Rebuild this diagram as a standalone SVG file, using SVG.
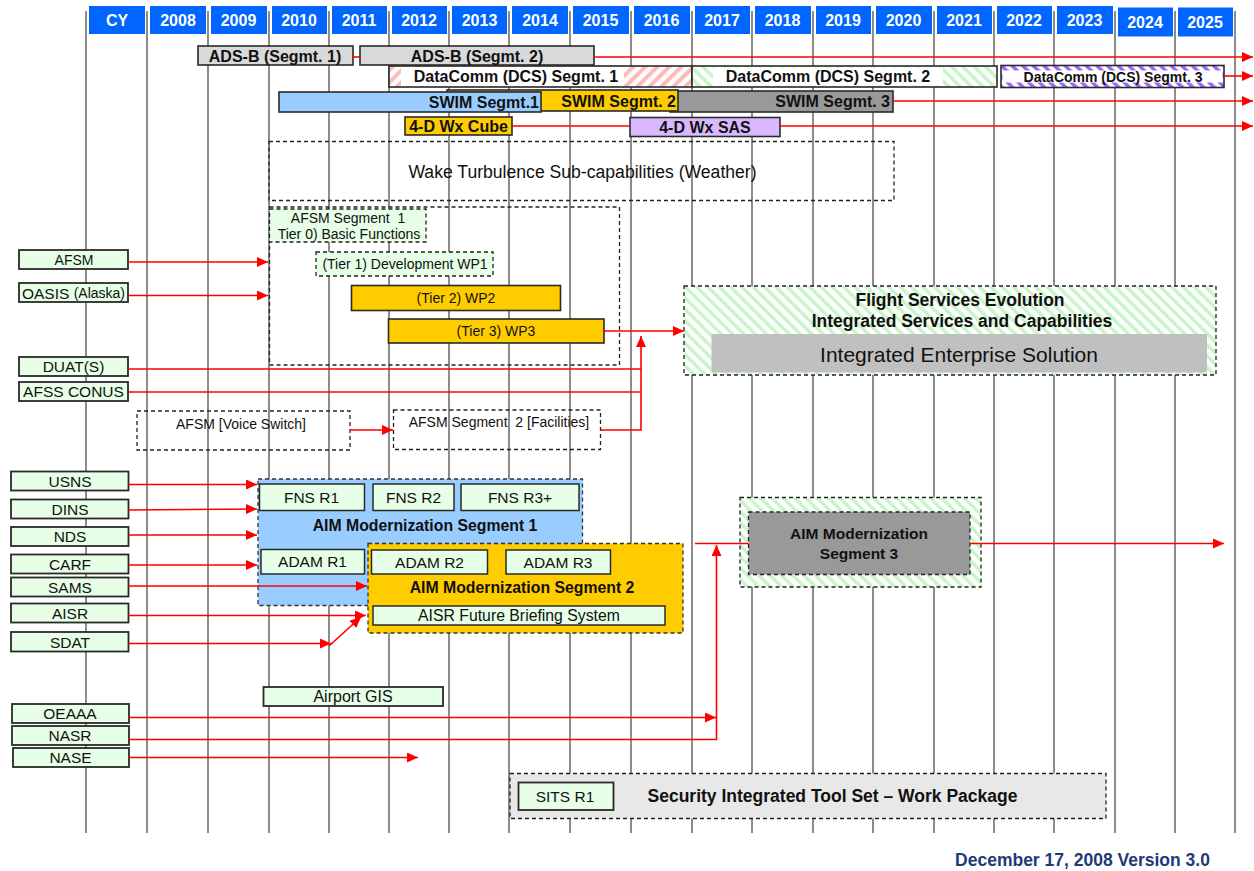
<svg xmlns="http://www.w3.org/2000/svg" width="1254" height="871" viewBox="0 0 1254 871">
<style>
text{font-family:"Liberation Sans",Arial,sans-serif;fill:#111;dominant-baseline:central;text-anchor:middle}
.hd rect{fill:#0066FF}
.hd text{fill:#fff;font-weight:bold;font-size:16px}
.grid line{stroke:#8c8c8c;stroke-width:2}
.bar{stroke:#2a2a2a;stroke-width:1.6}
.b{font-weight:bold}
.src{fill:#E6FFE6;stroke:#2a2a2a;stroke-width:1.8}
.lg{fill:#E6FFE6;stroke:#2a2a2a;stroke-width:1.5}
.dash{fill:none;stroke:#222;stroke-width:1.3;stroke-dasharray:4 3}
.conn line,.conn polyline{stroke:#FF0000;stroke-width:1.6;fill:none}
.arr{marker-end:url(#ah)}
</style>
<defs>
<marker id="ah" markerUnits="userSpaceOnUse" markerWidth="12" markerHeight="10" refX="11" refY="5" orient="auto">
<path d="M0,0 L11,5 L0,10 Z" fill="#FF0000"/>
</marker>
<pattern id="pPink" patternUnits="userSpaceOnUse" width="8.5" height="8.5" patternTransform="rotate(45)">
<rect width="8.5" height="8.5" fill="#fff"/><rect width="4" height="8.5" fill="#FFB9B9"/>
</pattern>
<pattern id="pGreen" patternUnits="userSpaceOnUse" width="8" height="8" patternTransform="rotate(-45)">
<rect width="8" height="8" fill="#fff"/><rect width="3.5" height="8" fill="#C8F5C8"/>
</pattern>
<pattern id="pPurple" patternUnits="userSpaceOnUse" width="7.5" height="7.5" patternTransform="rotate(-45)">
<rect width="7.5" height="7.5" fill="#fff"/><rect width="3.5" height="7.5" fill="#9966FF"/>
</pattern>
</defs>
<rect width="1254" height="871" fill="#fff"/>

<g id="grid" class="grid">
<line x1="86" y1="11" x2="86" y2="833"/><line x1="147" y1="11" x2="147" y2="833"/><line x1="208" y1="11" x2="208" y2="833"/><line x1="269" y1="11" x2="269" y2="833"/><line x1="329" y1="11" x2="329" y2="833"/><line x1="389" y1="11" x2="389" y2="833"/><line x1="449" y1="11" x2="449" y2="833"/><line x1="509" y1="11" x2="509" y2="833"/><line x1="570" y1="11" x2="570" y2="833"/><line x1="631" y1="11" x2="631" y2="833"/><line x1="692" y1="11" x2="692" y2="833"/><line x1="752" y1="11" x2="752" y2="833"/><line x1="813" y1="11" x2="813" y2="833"/><line x1="873" y1="11" x2="873" y2="833"/><line x1="934" y1="11" x2="934" y2="833"/><line x1="994" y1="11" x2="994" y2="833"/><line x1="1054" y1="11" x2="1054" y2="833"/><line x1="1115" y1="11" x2="1115" y2="833"/><line x1="1175" y1="11" x2="1175" y2="833"/><line x1="1235" y1="11" x2="1235" y2="833"/>
</g>

<g id="header" class="hd">
<rect x="89" y="6" width="56" height="28"/><text x="117" y="20">CY</text>
<rect x="150" y="6" width="56" height="28"/><text x="178" y="20">2008</text>
<rect x="211" y="6" width="56" height="28"/><text x="238.5" y="20">2009</text>
<rect x="272" y="6" width="55" height="28"/><text x="299" y="20">2010</text>
<rect x="332" y="6" width="55" height="28"/><text x="359" y="20">2011</text>
<rect x="392" y="6" width="55" height="28"/><text x="419" y="20">2012</text>
<rect x="452" y="6" width="55" height="28"/><text x="479.5" y="20">2013</text>
<rect x="512" y="6" width="56" height="28"/><text x="540" y="20">2014</text>
<rect x="573" y="6" width="56" height="28"/><text x="600.5" y="20">2015</text>
<rect x="634" y="6" width="56" height="28"/><text x="661.5" y="20">2016</text>
<rect x="695" y="6" width="55" height="28"/><text x="722" y="20">2017</text>
<rect x="755" y="6" width="56" height="28"/><text x="782.5" y="20">2018</text>
<rect x="816" y="6" width="55" height="28"/><text x="843" y="20">2019</text>
<rect x="876" y="6" width="56" height="28"/><text x="903.5" y="20">2020</text>
<rect x="937" y="6" width="55" height="28"/><text x="964" y="20">2021</text>
<rect x="997" y="6" width="55" height="28"/><text x="1024" y="20">2022</text>
<rect x="1057" y="6" width="56" height="28"/><text x="1084.5" y="20">2023</text>
<rect x="1118" y="7.5" width="55" height="29"/><text x="1145" y="22">2024</text>
<rect x="1178" y="7.5" width="55" height="29"/><text x="1205" y="22">2025</text>
</g>

<g id="adsb1"><rect class="bar" x="198" y="46" width="155" height="19" fill="#D9D9D9"/><text class="b" x="275" y="56" font-size="16">ADS-B (Segmt. 1)</text></g>
<g id="adsb2"><rect class="bar" x="360" y="46" width="234" height="19" fill="#D9D9D9"/><text class="b" x="477" y="56" font-size="16">ADS-B (Segmt. 2)</text></g>

<g id="dcs1"><rect class="bar" x="389" y="66" width="303" height="21" fill="url(#pPink)"/><rect x="401" y="67" width="223" height="19" fill="#fff"/><text class="b" x="516" y="76.5" font-size="16">DataComm (DCS) Segmt. 1</text></g>
<g id="dcs2"><rect class="bar" x="692" y="66" width="305" height="21" fill="url(#pGreen)"/><rect x="713" y="67.5" width="230" height="18" fill="#fff"/><text class="b" x="828" y="76.5" font-size="16">DataComm (DCS) Segmt. 2</text></g>
<g id="dcs3"><rect class="bar" x="1001" y="65.5" width="223" height="22" fill="url(#pPurple)"/><rect x="1002.5" y="70.5" width="220" height="12" fill="#fff"/><text class="b" x="1113" y="76.5" font-size="14">DataComm (DCS) Segmt. 3</text></g>

<g id="swim3"><rect class="bar" x="670" y="91" width="223" height="21" fill="#999999"/><text class="b" x="890" y="101.5" font-size="16" style="text-anchor:end">SWIM Segmt. 3</text></g>
<g id="swim2"><rect class="bar" x="447" y="90" width="231" height="21" fill="#FFCC00"/><text class="b" x="676" y="101" font-size="16" style="text-anchor:end">SWIM Segmt. 2</text></g>
<g id="swim1"><rect class="bar" x="279" y="92" width="262" height="20" fill="#99CCFF"/><text class="b" x="539" y="102" font-size="16" style="text-anchor:end">SWIM Segmt.1</text></g>

<g id="wxcube"><rect class="bar" x="405" y="117" width="107" height="18" fill="#FFCC00"/><text class="b" x="458.5" y="126" font-size="16">4-D Wx Cube</text></g>
<g id="wxsas"><rect class="bar" x="630" y="117.5" width="150" height="19" fill="#D9B8FF"/><text class="b" x="705" y="127" font-size="16">4-D Wx SAS</text></g>

<g id="wake"><rect class="dash" x="269" y="141.5" width="625" height="59"/><text x="582.5" y="172" font-size="17.6">Wake Turbulence Sub-capabilities (Weather)</text></g>

<g id="afsm-frame"><rect class="dash" x="269.5" y="207" width="350" height="158"/></g>
<g id="afsm-seg1"><rect x="269.5" y="209" width="156.5" height="33" fill="#E6FFE6" stroke="#222" stroke-width="1.3" stroke-dasharray="4 3"/><text x="348" y="217.5" font-size="14">AFSM Segment&#160; 1</text><text x="349" y="234" font-size="14">Tier 0) Basic Functions</text></g>
<g id="tier1"><rect x="316" y="252" width="177" height="24" fill="#E6FFE6" stroke="#222" stroke-width="1.3" stroke-dasharray="4 3"/><text x="405" y="264" font-size="14">(Tier 1) Development WP1</text></g>
<g id="tier2"><rect class="bar" x="351.5" y="285.5" width="209" height="25" fill="#FFCC00"/><text x="456" y="298" font-size="14">(Tier 2) WP2</text></g>
<g id="tier3"><rect class="bar" x="388.5" y="319" width="215.5" height="24" fill="#FFCC00"/><text x="496" y="331" font-size="14">(Tier 3) WP3</text></g>

<g id="fse"><rect x="684" y="286" width="532" height="89" fill="url(#pGreen)" stroke="#222" stroke-width="1.3" stroke-dasharray="4 3"/><text class="b" x="960" y="300" font-size="17.5">Flight Services Evolution</text><text class="b" x="962" y="321" font-size="17.5">Integrated Services and Capabilities</text><rect x="711.5" y="334" width="495.5" height="38.5" fill="#C0C0C0"/><text x="959" y="354" font-size="21">Integrated Enterprise Solution</text></g>

<g id="src-afsm"><rect class="src" x="19" y="250" width="109" height="19"/><text x="74" y="259.5" font-size="14">AFSM</text></g>
<g id="src-oasis"><rect class="src" x="19" y="283" width="109" height="19"/><text x="73.5" y="292.5"><tspan font-size="15.5">OASIS </tspan><tspan font-size="14">(Alaska)</tspan></text></g>
<g id="src-duat"><rect class="src" x="19" y="357" width="109" height="19"/><text x="73.5" y="366.5" font-size="15.5">DUAT(S)</text></g>
<g id="src-afss"><rect class="src" x="19" y="382" width="109" height="19"/><text x="73.5" y="391.5" font-size="15.5">AFSS CONUS</text></g>

<g id="voice"><rect class="dash" x="137" y="411" width="213" height="39"/><text x="241" y="424" font-size="14">AFSM [Voice Switch]</text></g>
<g id="afsm-seg2"><rect class="dash" x="393.5" y="410" width="207" height="39.5"/><text x="499" y="422" font-size="14">AFSM Segment&#160; 2 [Facilities]</text></g>

<g id="src-usns"><rect class="src" x="11" y="471.5" width="117.5" height="19"/><text x="70" y="481" font-size="15.5">USNS</text></g>
<g id="src-dins"><rect class="src" x="11" y="499.5" width="117.5" height="19"/><text x="70" y="509" font-size="15.5">DINS</text></g>
<g id="src-nds"><rect class="src" x="11" y="527" width="117.5" height="19"/><text x="70" y="536.5" font-size="15.5">NDS</text></g>
<g id="src-carf"><rect class="src" x="11" y="554.5" width="117.5" height="19"/><text x="70" y="564" font-size="15.5">CARF</text></g>
<g id="src-sams"><rect class="src" x="11" y="577.5" width="117.5" height="19"/><text x="70" y="587" font-size="15.5">SAMS</text></g>
<g id="src-aisr"><rect class="src" x="11" y="603.5" width="117.5" height="19"/><text x="70" y="613" font-size="15.5">AISR</text></g>
<g id="src-sdat"><rect class="src" x="11" y="632" width="117.5" height="19.5"/><text x="70" y="642" font-size="15.5">SDAT</text></g>

<g id="aim1"><rect x="258" y="479" width="324.5" height="126.5" fill="#99CCFF" stroke="#333" stroke-width="1.3" stroke-dasharray="4 3"/><text class="b" x="425" y="525.5" font-size="15.8">AIM Modernization Segment 1</text>
<rect class="lg" x="259.5" y="484" width="105" height="26.5"/><text x="311.5" y="497.5" font-size="15.5">FNS R1</text>
<rect class="lg" x="373" y="484" width="81" height="26.5"/><text x="413.5" y="497.5" font-size="15.5">FNS R2</text>
<rect class="lg" x="461" y="484" width="118" height="26.5"/><text x="520" y="497.5" font-size="15.5">FNS R3+</text>
<rect class="lg" x="261" y="549.5" width="103.5" height="24.5"/><text x="312.5" y="561.5" font-size="15.5">ADAM R1</text></g>

<g id="aim2"><rect x="368" y="543.5" width="315" height="89.5" fill="#FFCC00" stroke="#333" stroke-width="1.3" stroke-dasharray="4 3"/>
<rect class="lg" x="371.5" y="550" width="116" height="24"/><text x="429.5" y="562" font-size="15.5">ADAM R2</text>
<rect class="lg" x="506" y="550" width="104.5" height="24"/><text x="558" y="562" font-size="15.5">ADAM R3</text>
<text class="b" x="522" y="587.5" font-size="15.8">AIM Modernization Segment 2</text>
<rect class="lg" x="373" y="606" width="292" height="19"/><text x="519" y="615.5" font-size="15.8">AISR Future Briefing System</text></g>

<g id="aim3"><rect x="740" y="497.5" width="241" height="89.5" fill="url(#pGreen)" stroke="#222" stroke-width="1.3" stroke-dasharray="4 3"/><rect x="748.5" y="512" width="221.5" height="62.5" fill="#999999" stroke="#222" stroke-width="1.3" stroke-dasharray="4 3"/><text class="b" x="859" y="533.5" font-size="15.5">AIM Modernization</text><text class="b" x="859" y="553" font-size="15.5">Segment 3</text></g>

<g id="airport-gis"><rect class="src" x="263.5" y="687" width="179.5" height="19"/><text x="353" y="696.5" font-size="16">Airport GIS</text></g>
<g id="src-oeaaa"><rect class="src" x="12" y="704" width="117" height="19"/><text x="70" y="713.5" font-size="15.5">OEAAA</text></g>
<g id="src-nasr"><rect class="src" x="12" y="726" width="117" height="19"/><text x="70" y="735.5" font-size="15.5">NASR</text></g>
<g id="src-nase"><rect class="src" x="13" y="748" width="116" height="19"/><text x="70.5" y="757.5" font-size="15.5">NASE</text></g>

<g id="sits"><rect x="510" y="773.5" width="596" height="45" fill="#E8E8E8" stroke="#222" stroke-width="1.3" stroke-dasharray="4 3"/><rect class="src" x="518.5" y="782.5" width="95" height="27.5"/><text x="565" y="796.5" font-size="15.5">SITS R1</text><text class="b" x="832.5" y="795.5" font-size="17.5">Security Integrated Tool Set – Work Package</text></g>

<g id="footer"><text class="b" x="1082.5" y="860" font-size="17.5" style="fill:#1F3A75">December 17, 2008 Version 3.0</text></g>

<g id="connectors" class="conn">
<line x1="353" y1="57" x2="360" y2="57"/>
<line class="arr" x1="594" y1="57" x2="1253" y2="57"/>
<line class="arr" x1="1224" y1="76" x2="1253" y2="76"/>
<line class="arr" x1="893" y1="101" x2="1253" y2="101"/>
<line x1="512" y1="126" x2="630" y2="126"/>
<line class="arr" x1="780" y1="126" x2="1253" y2="126"/>
<line class="arr" x1="128" y1="262" x2="268" y2="262"/>
<line class="arr" x1="128" y1="295.5" x2="268" y2="295.5"/>
<line class="arr" x1="604" y1="331" x2="684" y2="331"/>
<line x1="128" y1="369" x2="641" y2="369"/>
<line x1="128" y1="392" x2="641" y2="392"/>
<line class="arr" x1="350" y1="430" x2="393" y2="430"/>
<polyline class="arr" points="600.5,430 641,430 641,336"/>
<line class="arr" x1="128.5" y1="484.5" x2="257" y2="484.5"/>
<line class="arr" x1="128.5" y1="510" x2="257" y2="509"/>
<line class="arr" x1="128.5" y1="535" x2="257" y2="535"/>
<line class="arr" x1="128.5" y1="565" x2="257" y2="565"/>
<line class="arr" x1="128.5" y1="586" x2="367" y2="586"/>
<line class="arr" x1="128.5" y1="615.5" x2="366" y2="615.5"/>
<line class="arr" x1="128.5" y1="643.5" x2="331" y2="643.5"/>
<line class="arr" x1="329" y1="646" x2="361" y2="617"/>
<line x1="695" y1="543.5" x2="748.5" y2="543.5"/>
<line class="arr" x1="970" y1="543.5" x2="1224" y2="543.5"/>
<line class="arr" x1="129" y1="717.5" x2="716" y2="717.5"/>
<polyline class="arr" points="129,739.5 716.5,739.5 716.5,545"/>
<line class="arr" x1="129" y1="757.5" x2="418" y2="757.5"/>
</g>
</svg>
